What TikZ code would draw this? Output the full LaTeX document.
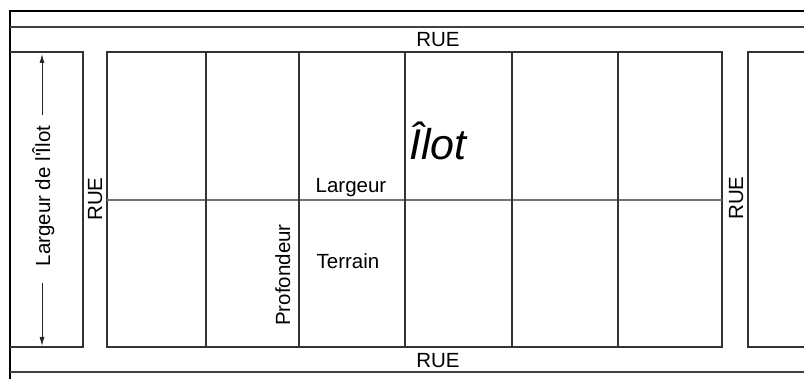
\documentclass[tikz,border=0pt]{standalone}
\usepackage{fontspec}
\setmainfont{Liberation Sans}
\usetikzlibrary{arrows.meta}
\begin{document}
\begin{tikzpicture}[x=1pt,y=-1pt,
  frame/.style={line width=1.6pt,black},
  rueline/.style={line width=1.1pt,black!75},
  lot/.style={line width=1.1pt,black!80},
  midline/.style={line width=1.2pt,black!55},
  lbl/.style={inner sep=0pt,font=\fontsize{20.5}{24}\selectfont,anchor=base},
  rlbl/.style={lbl,rotate=90},
  dim/.style={line width=0.9pt,black!85,-{Latex[length=9pt,width=5pt]}}]
\useasboundingbox (0,0) rectangle (804,379);
% outer frame
\draw[frame] (804,11) -- (10,11) -- (10,379);
\draw[rueline] (10,27) -- (804,27);
\draw[rueline] (10,372) -- (804,372);
% left block
\draw[lot] (10,52) -- (83,52) -- (83,347) -- (10,347);
% right block
\draw[lot] (804,52) -- (748,52) -- (748,347) -- (804,347);
% main block
\draw[lot] (107,52) rectangle (722,347);
\draw[midline] (107,200) -- (722,200);
\foreach \x in {206,299,405,512,618}
  \draw[lot] (\x,52) -- (\x,347);
% labels
\node[lbl] (rueT) at (438,47) {RUE};
\node[lbl] (rueB) at (438,368) {RUE};
\node[rlbl] (rueL) at (102,199) {RUE};
\node[rlbl] (rueR) at (743,198) {RUE};
\node[lbl] (larg) at (351,193) {Largeur};
\node[lbl] (terr) at (348,269) {Terrain};
\node[rlbl] (prof) at (290,275) {Profondeur};
\node[inner sep=0pt,anchor=base,font=\fontsize{43}{48}\selectfont\itshape] (ilot) at (438,160) {Îlot};
\node[rlbl] (largI) at (50,196) {Largeur de l\textquotesingle Îlot};
% dimension arrow
\coordinate (aT) at (42,54);
\coordinate (aB) at (42,346);
\coordinate (gT) at (42,115);
\coordinate (gB) at (42,283);
\draw[dim] (gT) -- (aT);
\draw[dim] (gB) -- (aB);
\end{tikzpicture}
\end{document}
